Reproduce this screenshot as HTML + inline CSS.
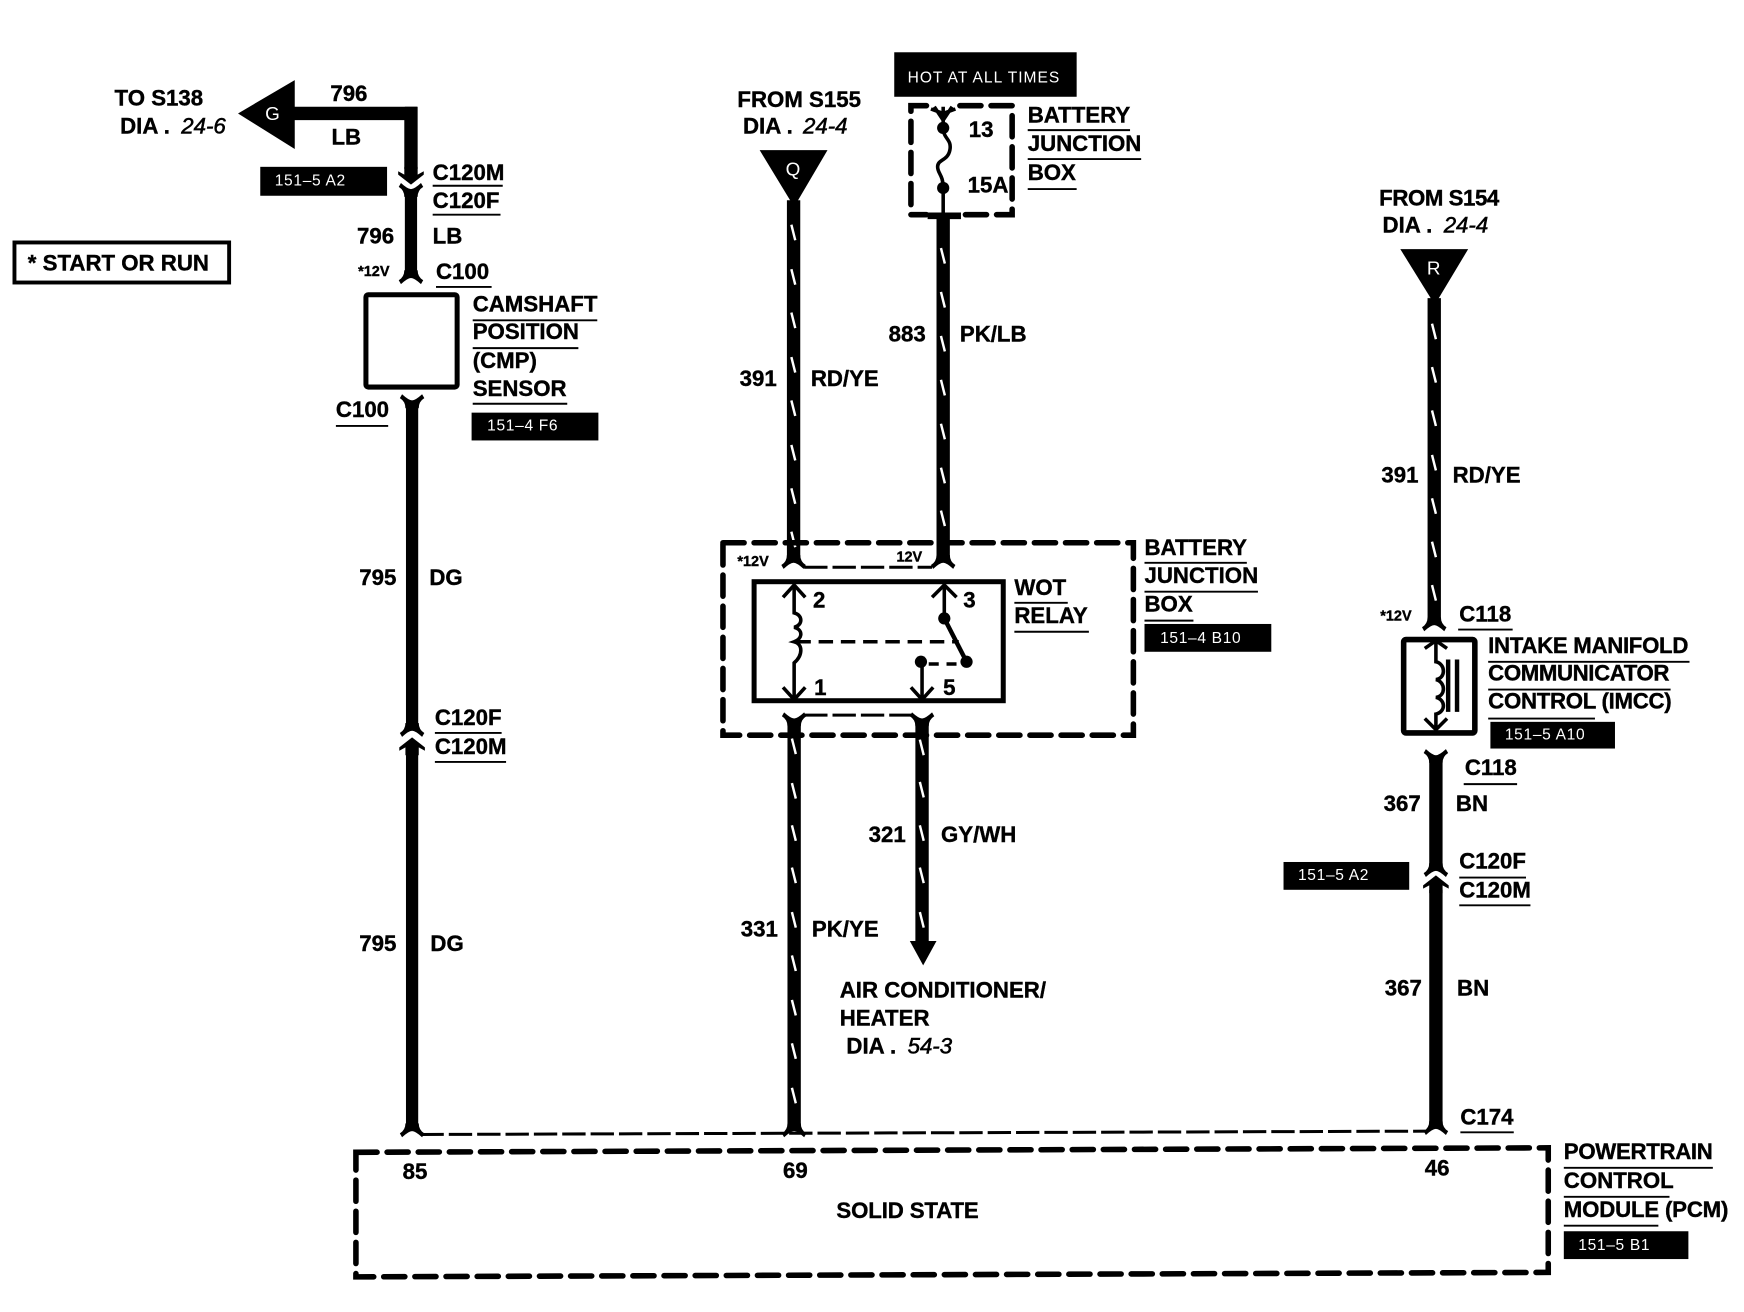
<!DOCTYPE html>
<html><head><meta charset="utf-8"><style>
html,body{margin:0;padding:0;background:#fff}
svg{display:block;width:1744px;height:1312px}
text{font-family:"Liberation Sans",sans-serif;font-weight:bold;font-size:20px;fill:#000;stroke:#000;stroke-width:.35}
.s{font-size:14px;font-weight:normal;fill:#fff;stroke:none;letter-spacing:.6px}
.l{fill:#fff;stroke:none;font-weight:normal;font-size:17px;text-anchor:middle}
.v{font-size:13px}
.i{font-style:italic;font-weight:normal;stroke-width:.5}
.w{stroke:#000;fill:none}
.t{stroke:#fff;stroke-width:2.2;fill:none}
.d{stroke:#000;fill:none;stroke-width:5;stroke-dasharray:19 9;stroke-linecap:round}
.h{stroke:#000;fill:none;stroke-width:2.7;stroke-dasharray:21 4.500}
.u{stroke:#000;stroke-width:1.7}
.f{stroke:#000;stroke-width:3.2;fill:none}
</style></head><body>
<svg xmlns="http://www.w3.org/2000/svg" viewBox="0 0 1568 1179.6">
<defs>
<path id="fb" d="M-6,-10 Q-6,-4 -11,-1 L-9,2.500 Q-3,-3 0,-3 Q3,-3 9,2.500 L11,-1 Q6,-4 6,-10Z"/>
<path id="ft" d="M-6,10 Q-6,4 -11,1 L-9,-2.500 Q-3,3 0,3 Q3,3 9,-2.500 L11,1 Q6,4 6,10Z"/>
<path id="au" d="M0,0 L11.500,9 V12 L6,9 V16 H-6 V9 L-11.500,12 V9Z"/>
<path id="ad" d="M0,0 L11.500,-9 V-12 L6,-9 V-16 H-6 V-9 L-11.500,-12 V-9Z"/>
</defs>
<rect width="1568" height="1180" fill="#fff"/>

<!-- Left branch -->
<polygon points="214,102 265,72 265,134" fill="#000"/>
<path class="w" stroke-width="12" d="M260,102 H369.500 V152"/>
<path class="w" stroke-width="11" d="M369.500,96 V152"/>
<use href="#ad" x="369.500" y="166"/>
<use href="#ft" x="369.500" y="167"/>
<path class="w" stroke-width="11" d="M369.500,175 V245"/>
<use href="#fb" x="369.500" y="253"/>
<rect x="329" y="265" width="82" height="83" rx="2" fill="#fff" stroke="#000" stroke-width="4.500"/>
<use href="#ft" x="370.500" y="357"/>
<path class="w" stroke-width="11" d="M370.500,366 V652"/>
<use href="#fb" x="370.500" y="660"/>
<use href="#au" x="370.500" y="663"/>
<path class="w" stroke-width="11" d="M370.500,676 V1012"/>
<use href="#fb" x="370.500" y="1020"/>

<text x="103" y="95">TO S138</text>
<text x="108" y="120">DIA .</text><text x="163" y="120" class="i">24-6</text>
<text x="245" y="108" class="l">G</text>
<text x="297" y="91">796</text><text x="298" y="130">LB</text>
<rect x="234" y="150" width="114" height="26" fill="#000"/>
<text class="s" x="247" y="167">151–5 A2</text>
<text x="389" y="162">C120M</text><line class="u" x1="389" y1="167" x2="452" y2="167"/>
<text x="389" y="187">C120F</text><line class="u" x1="389" y1="193" x2="450" y2="193"/>
<text x="321" y="219">796</text><text x="389" y="219">LB</text>
<text class="v" x="322" y="248">*12V</text>
<text x="392" y="251">C100</text><line class="u" x1="392" y1="258" x2="442" y2="258"/>
<rect x="13" y="218" width="193" height="36" fill="none" stroke="#000" stroke-width="3.500"/>
<text x="25" y="243">* START OR RUN</text>
<text x="425" y="280">CAMSHAFT</text><line class="u" x1="425" y1="288" x2="537" y2="288"/>
<text x="425" y="305">POSITION</text><line class="u" x1="425" y1="313" x2="520" y2="313"/>
<text x="425" y="331">(CMP)</text>
<text x="425" y="356">SENSOR</text><line class="u" x1="425" y1="363" x2="510" y2="363"/>
<rect x="424" y="371" width="114" height="25" fill="#000"/>
<text class="s" x="438" y="387">151–4 F6</text>
<text x="302" y="375">C100</text><line class="u" x1="302" y1="383" x2="349" y2="383"/>
<text x="323" y="526">795</text><text x="386" y="526">DG</text>
<text x="391" y="652">C120F</text><line class="u" x1="391" y1="659" x2="451" y2="659"/>
<text x="391" y="678">C120M</text><line class="u" x1="391" y1="685" x2="455" y2="685"/>
<text x="323" y="855">795</text><text x="387" y="855">DG</text>

<!-- Middle left wire -->
<polygon points="683,135 744,135 714,186" fill="#000"/>
<text x="713" y="158" class="l">Q</text>
<path class="w" stroke-width="12" d="M713.500,180 V502"/>
<path class="t" d="M711.500,202 l3.500,14 M711.500,242 l3.500,14 M711.500,281 l3.500,14 M711.500,321 l3.500,14 M711.500,360 l3.500,14 M711.500,400 l3.500,14 M711.500,439 l3.500,14 M711.500,478 l3.500,14"/>
<use href="#fb" x="713.500" y="509"/>
<text x="663" y="96">FROM S155</text>
<text x="668" y="120">DIA .</text><text x="722" y="120" class="i">24-4</text>
<text x="665" y="347">391</text><text x="729" y="347">RD/YE</text>

<!-- Fuse -->
<rect x="804" y="47" width="164" height="40" fill="#000"/>
<text class="s" x="816" y="74" style="letter-spacing:.9px">HOT AT ALL TIMES</text>
<path class="d" d="M833,95 H819 V193 H833 M863,95 H910 V193 H863"/>
<path class="f" d="M848,96 V115 C848,125 856,125 854,135 C852,145 843,143 843,150 C843,156 848,157 848,169 V194"/>
<path class="f" d="M837,98 L848,102 L859,98 M840,96 L848,108 L856,96"/>
<circle cx="848" cy="115" r="5.500"/><circle cx="848" cy="169" r="5.500"/>
<path class="w" stroke-width="6" d="M834,194 H864"/>
<text x="871" y="123">13</text><text x="870" y="173">15A</text>
<text x="924" y="110">BATTERY</text><line class="u" x1="924" y1="117" x2="1016" y2="117"/>
<text x="924" y="136">JUNCTION</text><line class="u" x1="924" y1="143" x2="1026" y2="143"/>
<text x="924" y="162">BOX</text><line class="u" x1="924" y1="170" x2="968" y2="170"/>
<path class="w" stroke-width="12" d="M848,194 V502"/>
<path class="t" d="M846,223 l3.500,14 M846,262.500 l3.500,14 M846,302 l3.500,14 M846,341.500 l3.500,14 M846,381 l3.500,14 M846,420.500 l3.500,14 M846,459 l3.500,14"/>
<use href="#fb" x="848" y="509"/>
<text x="799" y="307">883</text><text x="863" y="307">PK/LB</text>

<!-- Relay -->
<rect x="650" y="488" width="369" height="173" class="d"/>
<path class="h" d="M723,510 H838"/>
<text class="v" x="663" y="509">*12V</text><text class="v" x="806" y="505">12V</text>
<rect x="678" y="523" width="224" height="107" fill="#fff" stroke="#000" stroke-width="4.500"/>
<path class="f" d="M714,527 V551 C722,553 722,562 714,564 C722,566 722,574 714,577 C722,579 722,589 714,596 V628"/>
<path class="f" d="M704,537 L714,526 L724,537 M704,618 L714,629 L724,618"/>
<path class="f" stroke-dasharray="13 7" d="M716,577 H862"/>
<path class="f" d="M849,527 V556 M838,537 L849,526 L860,537"/>
<path class="w" stroke-width="4" d="M849,556 L869,595"/>
<circle cx="849" cy="556" r="5.500"/><circle cx="869" cy="595" r="5.500"/>
<path class="f" d="M829,596 V628 M819,618 L829,629 L839,618"/><circle cx="828" cy="595" r="5.500"/>
<path class="f" stroke-dasharray="9 7" d="M835,597 H862"/>
<text x="731" y="546">2</text><text x="866" y="546">3</text><text x="732" y="625">1</text><text x="848" y="625">5</text>
<text x="912" y="535">WOT</text><line class="u" x1="912" y1="542" x2="960" y2="542"/>
<text x="912" y="560">RELAY</text><line class="u" x1="912" y1="568" x2="979" y2="568"/>
<text x="1029" y="499">BATTERY</text><line class="u" x1="1029" y1="506" x2="1121" y2="506"/>
<text x="1029" y="524">JUNCTION</text><line class="u" x1="1029" y1="532" x2="1131" y2="532"/>
<text x="1029" y="550">BOX</text><line class="u" x1="1029" y1="558" x2="1073" y2="558"/>
<rect x="1029" y="561" width="114" height="25" fill="#000"/>
<text class="s" x="1043" y="578">151–4 B10</text>
<path class="h" d="M723,643 H820"/>
<use href="#ft" x="714" y="643"/><use href="#ft" x="829" y="643"/>
<path class="w" stroke-width="12" d="M714,650 V1012"/>
<path class="t" d="M712,664 l3.500,14 M712,704 l3.500,14 M712,742 l3.500,14 M712,780 l3.500,14 M712,820 l3.500,14 M712,859 l3.500,14 M712,899 l3.500,14 M712,938 l3.500,14 M712,978 l3.500,14"/>
<path class="w" stroke-width="12" d="M829,650 V850"/>
<path class="t" d="M827,665 l3.500,14 M827,703 l3.500,14 M827,742 l3.500,14 M827,780 l3.500,14 M827,820 l3.500,14"/>
<polygon points="818,846 842,846 830,868" fill="#000"/>
<use href="#fb" x="714" y="1020"/>
<text x="781" y="757">321</text><text x="846" y="757">GY/WH</text>
<text x="666" y="842">331</text><text x="730" y="842">PK/YE</text>
<text x="755" y="897">AIR CONDITIONER/</text>
<text x="755" y="922">HEATER</text>
<text x="761" y="947">DIA .</text><text x="816" y="947" class="i">54-3</text>

<!-- Right -->
<polygon points="1259,224 1320,224 1290,274" fill="#000"/>
<text x="1289" y="247" class="l">R</text>
<text x="1240" y="185" textLength="108">FROM S154</text>
<text x="1243" y="209">DIA .</text><text x="1298" y="209" class="i">24-4</text>
<path class="w" stroke-width="12" d="M1289.500,268 V558"/>
<path class="t" d="M1287.500,291 l3.500,14 M1287.500,330 l3.500,14 M1287.500,369 l3.500,14 M1287.500,409 l3.500,14 M1287.500,448 l3.500,14 M1287.500,487 l3.500,14 M1287.500,526 l3.500,14"/>
<use href="#fb" x="1289.500" y="565"/>
<text x="1242" y="434">391</text><text x="1306" y="434">RD/YE</text>
<text class="v" x="1241" y="558">*12V</text>
<text x="1312" y="559">C118</text><line class="u" x1="1311" y1="566" x2="1360" y2="566"/>
<rect x="1262" y="575" width="64" height="84" rx="2" fill="#fff" stroke="#000" stroke-width="5"/>
<path class="f" d="M1291,578 V595 C1300,597 1300,610 1291,611 C1300,613 1300,626 1291,627 C1300,629 1300,640 1291,642 V656 M1281,583 L1291,576 L1301,583 M1281,646 L1291,656 L1301,646"/>
<path class="w" stroke-width="4" d="M1302,593 V640 M1310,593 V640"/>
<text x="1338" y="587" textLength="180">INTAKE MANIFOLD</text><line class="u" x1="1338" y1="595" x2="1519" y2="595"/>
<text x="1338" y="612" textLength="163">COMMUNICATOR</text><line class="u" x1="1338" y1="620" x2="1502" y2="620"/>
<text x="1338" y="637" textLength="165">CONTROL (IMCC)</text><line class="u" x1="1338" y1="646" x2="1434" y2="646"/>
<rect x="1340" y="649" width="112" height="24" fill="#000"/>
<text class="s" x="1353" y="665">151–5 A10</text>
<use href="#ft" x="1291" y="676"/>
<path class="w" stroke-width="12" d="M1291,684 V778"/>
<use href="#fb" x="1291" y="786"/>
<use href="#au" x="1291" y="787"/>
<text x="1317" y="697">C118</text><line class="u" x1="1316" y1="705" x2="1364" y2="705"/>
<text x="1244" y="729">367</text><text x="1309" y="729">BN</text>
<rect x="1154" y="775" width="113" height="25" fill="#000"/>
<text class="s" x="1167" y="791">151–5 A2</text>
<path class="w" stroke-width="12" d="M1291,800 V1010"/>
<use href="#fb" x="1291" y="1018"/>
<text x="1312" y="781">C120F</text><line class="u" x1="1312" y1="789" x2="1372" y2="789"/>
<text x="1312" y="807">C120M</text><line class="u" x1="1312" y1="814" x2="1376" y2="814"/>
<text x="1245" y="895">367</text><text x="1310" y="895">BN</text>
<text x="1313" y="1011">C174</text><line class="u" x1="1313" y1="1018" x2="1361" y2="1018"/>

<!-- PCM -->
<path class="h" d="M378,1020 L1283,1017"/>
<path class="d" d="M320,1036 L1392,1032 V1144 L320,1148 Z"/>
<text x="362" y="1060">85</text><text x="704" y="1059">69</text><text x="1281" y="1057">46</text>
<text x="752" y="1095" textLength="128">SOLID STATE</text>
<text x="1406" y="1042" textLength="134">POWERTRAIN</text><line class="u" x1="1406" y1="1050" x2="1540" y2="1050"/>
<text x="1406" y="1068">CONTROL</text><line class="u" x1="1406" y1="1076" x2="1501" y2="1076"/>
<text x="1406" y="1094" textLength="148">MODULE (PCM)</text><line class="u" x1="1406" y1="1102" x2="1491" y2="1102"/>
<rect x="1406" y="1107" width="112" height="25" fill="#000"/>
<text class="s" x="1419" y="1124">151–5 B1</text>
</svg>
</body></html>
